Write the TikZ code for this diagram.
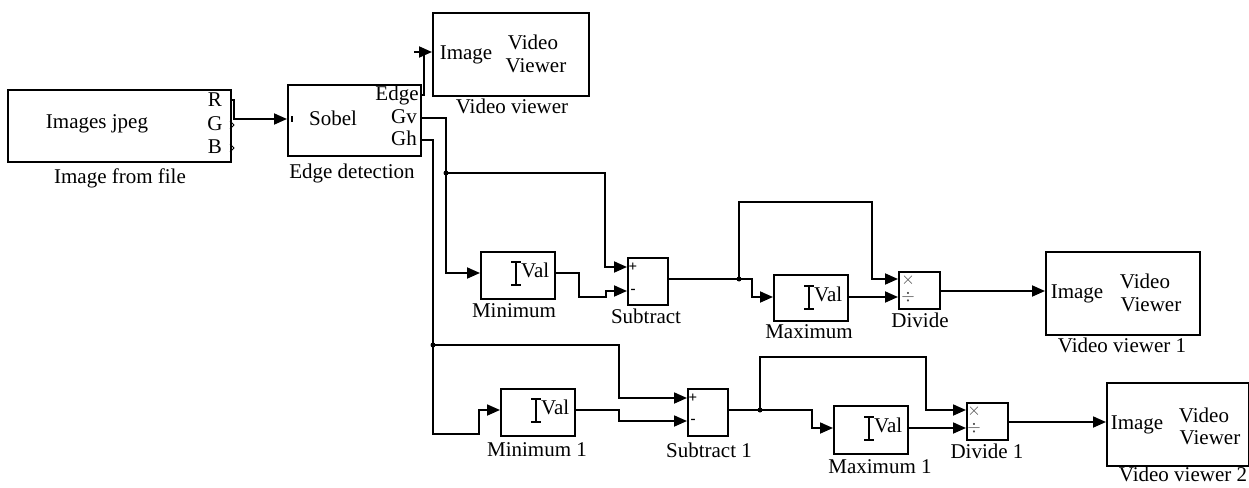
\documentclass[tikz,border=0pt]{standalone}
\usepackage{fontspec}
\setmainfont{Liberation Serif}
\usetikzlibrary{arrows.meta}
\newcommand\blk[5]{\node[box, minimum width=#4pt, minimum height=#5pt] (#1) at (#2,#3) {};}
\newcommand\ival[3]{%
  \draw[line width=1.5pt] (#1-5,#2-11) -- (#1+5,#2-11) (#1,#2-11) -- (#1,#2+12) (#1-5,#2+12) -- (#1+5,#2+12);
  \node[txt, anchor=west] (#3) at (#1+5,#2) {Val};}
\begin{document}
\begin{tikzpicture}[x=1pt,y=-1pt,
 box/.style={draw, line width=1.8pt, inner sep=0pt, anchor=north west},
 txt/.style={inner sep=0pt, text height=14pt, text depth=4.5pt, font=\fontsize{21}{24}\selectfont},
 sym/.style={inner sep=0pt, font=\fontsize{19}{20}\selectfont, text=gray!55!black},
 pm/.style={inner sep=0pt, font=\fontsize{15}{16}\selectfont\bfseries},
 wire/.style={line width=1.8pt},
 arr/.style={wire, -{Triangle[length=13pt,width=11pt]}},
 dot/.style={circle, fill, inner sep=0pt, minimum size=5pt}]
\useasboundingbox (0,0) rectangle (1249,487);

% Image from file
\blk{imf}{7}{89}{223}{72}
\node[txt] (imft) at (97,124) {Images jpeg};
\node[txt] (rl) at (215,102) {R};
\node[txt] (gl) at (215,126) {G};
\node[txt] (bl) at (215,149) {B};
\node[txt] (imfc) at (120,179) {Image from file};
\draw[line width=1pt] (230,121) -- (234,125) -- (230,129);
\draw[line width=1pt] (230,144) -- (234,148) -- (230,152);

% Edge detection
\blk{sob}{287}{84}{133}{71}
\node[txt] (sobt) at (333,121) {Sobel};
\node[txt] (edl) at (397,96) {Edge};
\node[txt] (gvl) at (404,119) {Gv};
\node[txt] (ghl) at (404,141) {Gh};
\node[txt] (sobc) at (352,174) {Edge detection};
\draw[line width=1.2pt] (292,116) -- (292,122);

\coordinate (Rp) at (230,100);
\coordinate (sobin) at (287,119);
\coordinate (edgep) at (420,95);
\coordinate (gvp) at (420,118);
\coordinate (ghp) at (420,140);
\coordinate (edgestub) at (414,52);
\coordinate (vvin) at (432,52);

\draw[arr] (Rp) -- (234,100) -- (234,119) -- (sobin);
\draw[wire] (edgep) -- (424,95) -- (424,52);
\draw[arr] (edgestub) -- (vvin);

% Video viewer
\blk{vv}{432}{12}{156}{83}
\node[txt] (vvi) at (466,55) {Image};
\node[txt] (vvv) at (533,45) {Video};
\node[txt] (vvw) at (536,68) {Viewer};
\node[txt] (vvc) at (512,109) {Video viewer};

% wiring from Gv and Gh
\coordinate (minin) at (480,273);
\coordinate (j1) at (446,173);
\coordinate (subp) at (627,267);
\coordinate (min1in) at (500,410);
\coordinate (j2) at (433,345);
\coordinate (sub1p) at (687,398);
\draw[arr] (gvp) -- (446,118) -- (446,273) -- (minin);
\draw[arr] (j1) -- (605,173) -- (605,267) -- (subp);
\node[dot] (j1d) at (j1) {};
\draw[arr] (ghp) -- (433,140) -- (433,434) -- (479,434) -- (479,410) -- (min1in);
\draw[arr] (j2) -- (619,345) -- (619,398) -- (sub1p);
\node[dot] (j2d) at (j2) {};

% Minimum
\blk{min}{480}{251}{74}{47}
\ival{516}{273}{minval}
\node[txt] (minc) at (514,313) {Minimum};
\coordinate (minout) at (554,273);
\coordinate (subm) at (627,291);
\draw[arr] (minout) -- (579,273) -- (579,297) -- (606,297) -- (606,291) -- (subm);

% Subtract
\blk{sub}{627}{257}{40}{47}
\node[pm] (subpl) at (633,267) {+};
\node[pm] (submi) at (633,291) {-};
\node[txt] (subc) at (646,319) {Subtract};
\coordinate (subout) at (667,279);
\coordinate (j3) at (739,279);
\coordinate (maxin) at (773,297);
\coordinate (divx) at (898,279);
\draw[wire] (subout) -- (j3);
\draw[arr] (j3) -- (752,279) -- (752,297) -- (maxin);
\draw[arr] (j3) -- (739,202) -- (872,202) -- (872,279) -- (divx);
\node[dot] (j3d) at (j3) {};

% Maximum
\blk{max}{773}{274}{74}{46}
\ival{809}{297}{maxval}
\node[txt] (maxc) at (809,334) {Maximum};
\coordinate (maxout) at (847,297);
\coordinate (divd) at (898,297);
\draw[arr] (maxout) -- (divd);

% Divide
\blk{div}{898}{271}{41}{37}
\node[sym] (divxs) at (908,280) {$\times$};
\node[sym] (divds) at (908,297) {$\div$};
\node[txt] (divc) at (920,323) {Divide};
\coordinate (divout) at (939,291);
\coordinate (vv1in) at (1045,291);
\draw[arr] (divout) -- (vv1in);

% Video viewer 1
\blk{vva}{1045}{251}{154}{83}
\node[txt] (vvai) at (1077,294) {Image};
\node[txt] (vvav) at (1145,284) {Video};
\node[txt] (vvaw) at (1151,307) {Viewer};
\node[txt] (vvac) at (1122,348) {Video viewer 1};

% Minimum 1
\blk{mina}{500}{388}{74}{47}
\ival{536}{410}{minaval}
\node[txt] (minac) at (537,452) {Minimum 1};
\coordinate (minaout) at (574,410);
\coordinate (subam) at (687,421);
\draw[arr] (minaout) -- (619,410) -- (619,421) -- (subam);

% Subtract 1
\blk{suba}{687}{388}{40}{47}
\node[pm] (subapl) at (693,398) {+};
\node[pm] (subami) at (693,421) {-};
\node[txt] (subac) at (709,453) {Subtract 1};
\coordinate (subaout) at (727,410);
\coordinate (j4) at (760,410);
\coordinate (maxain) at (833,428);
\coordinate (divax) at (966,410);
\draw[wire] (subaout) -- (j4);
\draw[arr] (j4) -- (812,410) -- (812,428) -- (maxain);
\draw[arr] (j4) -- (760,357) -- (926,357) -- (926,410) -- (divax);
\node[dot] (j4d) at (j4) {};

% Maximum 1
\blk{maxa}{833}{405}{74}{48}
\ival{869}{428}{maxaval}
\node[txt] (maxac) at (880,469) {Maximum 1};
\coordinate (maxaout) at (907,428);
\coordinate (divad) at (966,428);
\draw[arr] (maxaout) -- (divad);

% Divide 1
\blk{diva}{966}{402}{41}{37}
\node[sym] (divaxs) at (974,411) {$\times$};
\node[sym] (divads) at (974,428) {$\div$};
\node[txt] (divac) at (987,454) {Divide 1};
\coordinate (divaout) at (1007,422);
\coordinate (vv2in) at (1106,422);
\draw[arr] (divaout) -- (vv2in);

% Video viewer 2
\blk{vvb}{1106}{382}{142}{83}
\node[txt] (vvbi) at (1137,425) {Image};
\node[txt] (vvbv) at (1204,418) {Video};
\node[txt] (vvbw) at (1210,440) {Viewer};
\node[txt] (vvbc) at (1183,477) {Video viewer 2};
\end{tikzpicture}
\end{document}
